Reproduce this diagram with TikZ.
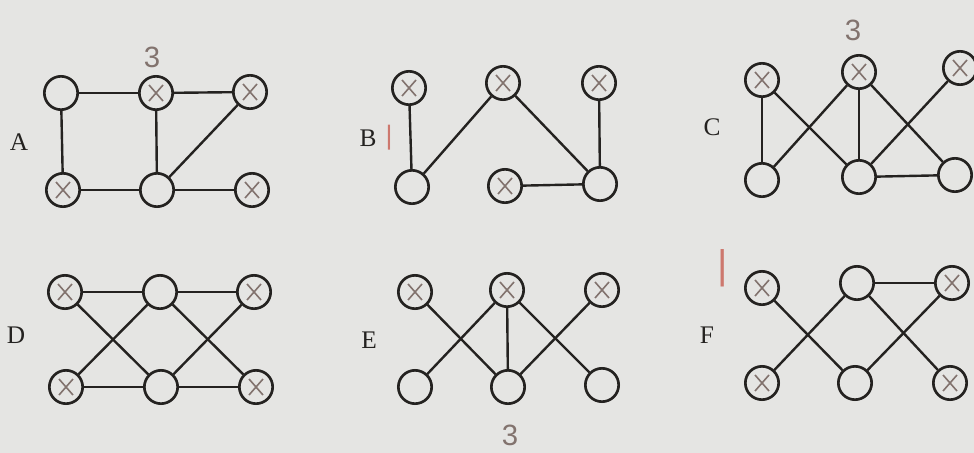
\documentclass[tikz,border=0pt]{standalone}
\usepackage{fontspec}
\setmainfont{Liberation Serif}
\newfontfamily\handfont{Liberation Sans}
\definecolor{paper}{RGB}{229,229,227}
\definecolor{ink}{RGB}{36,34,32}
\definecolor{pencil}{RGB}{130,115,110}
\definecolor{redpen}{RGB}{205,120,110}
\tikzset{
 vtx/.style={circle,draw=ink,line width=2pt,minimum size=25pt,inner sep=0pt},
 mvtx/.style={vtx,path picture={\draw[pencil,line width=1.2pt] ([shift={(-7,-8)}]path picture bounding box.center) -- ++(14,16) ([shift={(-7,8)}]path picture bounding box.center) -- ++(14,-16);}},
 link/.style={ink,line width=1.8pt},
 lbl/.style={font=\fontsize{19}{22}\selectfont,text=ink},
 handnum/.style={font=\handfont\fontsize{22}{24}\selectfont,text=pencil},
 tally/.style={font=\handfont\fontsize{20}{22}\selectfont,text=redpen},
}
\begin{document}
\begin{tikzpicture}[x=0.75pt,y=-0.75pt]
\fill[paper] (0,0) rectangle (974,453);
\useasboundingbox (0,0) rectangle (974,453);

\node[lbl] (labA) at (19,142) {A};
\node[lbl] (labB) at (368,138) {B};
\node[lbl] (labC) at (712,127) {C};
\node[lbl] (labD) at (16,335) {D};
\node[lbl] (labE) at (369,340) {E};
\node[lbl] (labF) at (707,335) {F};

\foreach \n/\x/\y/\s in {1/61/93/vtx,2/156/93/mvtx,3/250/92/mvtx,4/63/190/mvtx,5/157/190/vtx,6/252/190/mvtx}{ \node[\s] (A\n) at (\x,\y){};}
\foreach \a/\b in {1/2,2/3,1/4,2/5,5/3,4/5,5/6}{ \draw[link] (A\a) -- (A\b);}

\foreach \n/\x/\y/\s in {1/409/88/mvtx,2/503/83/mvtx,3/599/83/mvtx,4/412/187/vtx,5/505/186/mvtx,6/600/184/vtx}{ \node[\s] (B\n) at (\x,\y){};}
\foreach \a/\b in {1/4,4/2,2/6,3/6,5/6}{ \draw[link] (B\a) -- (B\b);}

\foreach \n/\x/\y/\s in {1/762/80/mvtx,2/859/72/mvtx,3/960/68/mvtx,4/762/180/vtx,5/859/177/vtx,6/955/175/vtx}{ \node[\s] (C\n) at (\x,\y){};}
\foreach \a/\b in {1/4,1/5,4/2,2/5,2/6,5/3,5/6}{ \draw[link] (C\a) -- (C\b);}

\foreach \n/\x/\y/\s in {1/65/292/mvtx,2/160/292/vtx,3/254/292/mvtx,4/66/387/mvtx,5/161/387/vtx,6/256/387/mvtx}{ \node[\s] (D\n) at (\x,\y){};}
\foreach \a/\b in {1/2,2/3,4/5,5/6,1/5,4/2,2/6,5/3}{ \draw[link] (D\a) -- (D\b);}

\foreach \n/\x/\y/\s in {1/415/292/mvtx,2/507/290/mvtx,3/602/290/mvtx,4/415/387/vtx,5/508/387/vtx,6/602/385/vtx}{ \node[\s] (E\n) at (\x,\y){};}
\foreach \a/\b in {1/5,4/2,2/5,2/6,5/3}{ \draw[link] (E\a) -- (E\b);}

\foreach \n/\x/\y/\s in {1/762/288/mvtx,2/857/283/vtx,3/952/283/mvtx,4/762/383/mvtx,5/855/383/vtx,6/950/383/mvtx}{ \node[\s] (F\n) at (\x,\y){};}
\foreach \a/\b in {1/5,4/2,2/3,2/6,5/3}{ \draw[link] (F\a) -- (F\b);}

\node[handnum] (numA) at (152,57) {3};
\node[handnum] (numC) at (853,30) {3};
\node[handnum] (numE) at (510,435) {3};
\node[tally] (tallyB) at (389,138) {|};
\node[tally,font=\handfont\fontsize{30}{32}\selectfont] (tallyF) at (723,268) {|};
\end{tikzpicture}
\end{document}
